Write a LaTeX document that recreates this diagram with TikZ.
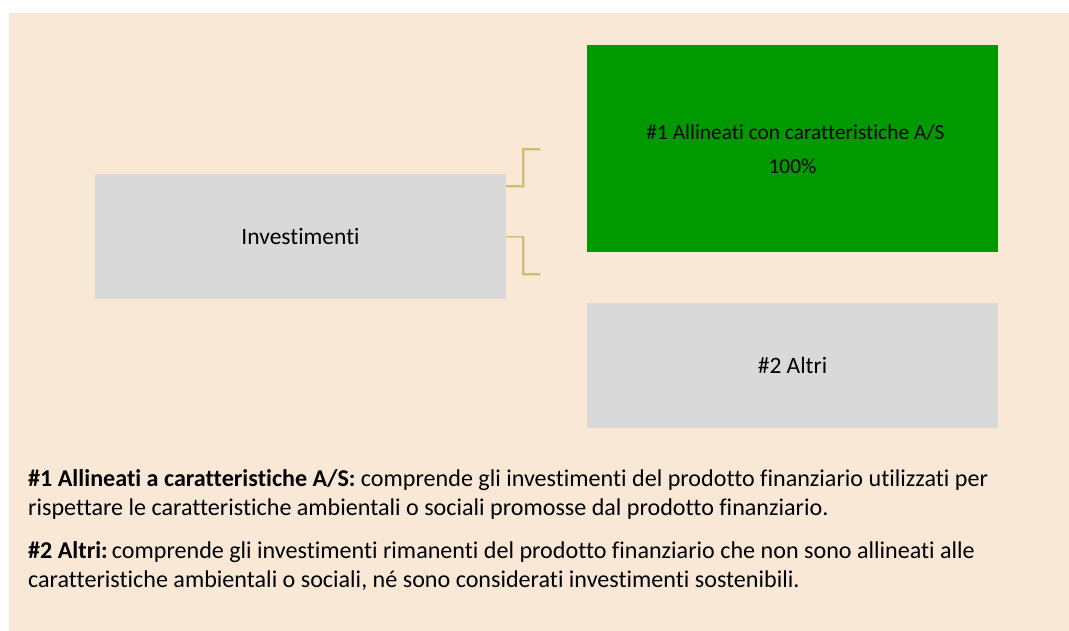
\documentclass[tikz,border=0pt]{standalone}
\usepackage{fontspec}
\setmainfont{Carlito}[Ligatures={NoCommon,NoRequired,NoContextual}]
\definecolor{bgbeige}{RGB}{250,232,215}
\definecolor{boxgray}{RGB}{217,217,217}
\definecolor{boxgreen}{RGB}{0,153,0}
\definecolor{conncol}{RGB}{204,190,120}
\definecolor{connshadow}{RGB}{228,214,170}
\tikzset{
  box/.style={draw=none, fill=boxgray, minimum width=411pt, minimum height=125pt, inner sep=0pt, font=\fontsize{23.5}{28}\selectfont},
  conn/.style={draw=conncol, line width=1.6pt},
  connsh/.style={draw=connshadow, line width=1.6pt},
  bodyline/.style={anchor=base west, inner sep=0pt, font=\fontsize{24.1}{29}\selectfont, text=black},
  greentext/.style={anchor=base, inner sep=0pt, font=\fontsize{21.4}{25}\selectfont},
}
\begin{document}
\begin{tikzpicture}[x=1pt,y=-1pt]
\useasboundingbox (0,0) rectangle (1069,631);
\fill[white] (0,0) rectangle (1069,631);
\fill[bgbeige] (9,13) rectangle (1069,631);
% boxes
\node[box] (inv) at (300.5,236.5) {Investimenti};
\node[box, fill=boxgreen, minimum height=207pt] (al) at (792.5,148.5) {};
\node[greentext] (alt1) at (795.5,140) {\#1 Allineati con caratteristiche A/S};
\node[greentext] (alt2) at (792.5,174) {100\%};
\node[box] (oth) at (792.5,365.5) {\#2 Altri};
% connectors
\coordinate (ua) at (540,149);
\coordinate (la) at (540,274);
\draw[connsh] ([xshift=1pt,yshift=-13pt]inv.north east) -- ++(17,0) |- ([xshift=1pt,yshift=-1pt]ua);
\draw[connsh] ([xshift=1pt,yshift=-1pt]inv.east) -- ++(17,0) |- ([xshift=1pt,yshift=-1pt]la);
\draw[conn] ([yshift=-12pt]inv.north east) -- ++(17,0) |- (ua);
\draw[conn] (inv.east) -- ++(17,0) |- (la);
% legend text
\node[bodyline] (l1) at (28,486) {\textbf{\#1 Allineati a caratteristiche A/S:} comprende gli investimenti del prodotto finanziario utilizzati per};
\node[bodyline] (l2) at (28,515) {rispettare le caratteristiche ambientali o sociali promosse dal prodotto finanziario.};
\node[bodyline] (l3) at (28,558) {\textbf{\#2 Altri:}\,comprende gli investimenti rimanenti del prodotto finanziario che non sono allineati alle};
\node[bodyline] (l4) at (28,587) {caratteristiche ambientali o sociali, né sono considerati investimenti sostenibili.};
\end{tikzpicture}
\end{document}
